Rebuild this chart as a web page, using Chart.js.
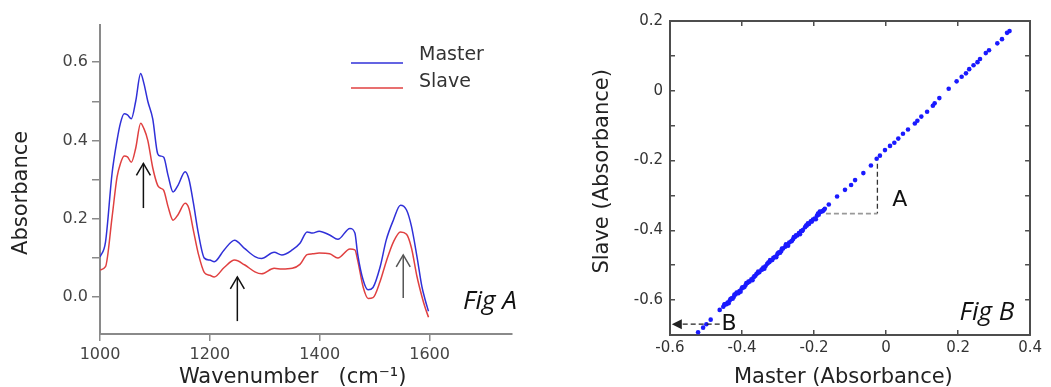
<!DOCTYPE html>
<html>
<head>
<meta charset="utf-8">
<script src="https://cdn.jsdelivr.net/npm/chart.js@4.4.0/dist/chart.umd.min.js"></script>
<style>
  html, body { margin: 0; padding: 0; background: #fff; overflow: hidden; width: 1051px; height: 387px; }
  canvas { position: absolute; top: 0; }
  #figA { left: 0; }
  #figB { left: 580px; }
</style>
</head>
<body>
<canvas id="figA" width="560" height="400"></canvas>
<canvas id="figB" width="471" height="400"></canvas>
<script>
// Fig A: spectra (wavenumber, absorbance)
const wavenumber = [1000, 1010, 1022, 1031, 1037, 1044, 1050, 1057, 1065, 1074, 1080, 1087, 1096, 1105, 1110, 1116,
  1124, 1133, 1142, 1155, 1162, 1170, 1179, 1190, 1200, 1208, 1226, 1245, 1263, 1282, 1294, 1317, 1331, 1350, 1364,
  1377, 1387, 1399, 1418, 1433, 1455, 1464, 1469, 1479, 1488, 1497, 1510, 1521, 1534, 1547, 1558, 1567, 1577, 1586,
  1592, 1598];
const masterA = [0.102, 0.140, 0.316, 0.400, 0.443, 0.468, 0.465, 0.455, 0.500, 0.571, 0.545, 0.500, 0.455, 0.366,
  0.360, 0.357, 0.310, 0.268, 0.285, 0.320, 0.300, 0.240, 0.163, 0.099, 0.094, 0.090, 0.120, 0.145, 0.124, 0.103,
  0.098, 0.114, 0.107, 0.120, 0.137, 0.166, 0.163, 0.168, 0.158, 0.147, 0.175, 0.163, 0.110, 0.043, 0.018, 0.024,
  0.077, 0.145, 0.196, 0.234, 0.222, 0.180, 0.103, 0.026, -0.008, -0.037];
const slaveA = [0.069, 0.077, 0.204, 0.306, 0.340, 0.360, 0.358, 0.344, 0.380, 0.444, 0.430, 0.400, 0.330, 0.285,
  0.278, 0.272, 0.230, 0.196, 0.210, 0.239, 0.225, 0.170, 0.110, 0.062, 0.055, 0.051, 0.075, 0.094, 0.082, 0.064,
  0.059, 0.073, 0.071, 0.073, 0.083, 0.108, 0.110, 0.112, 0.110, 0.099, 0.122, 0.120, 0.094, 0.025, -0.004, -0.002,
  0.040, 0.090, 0.140, 0.166, 0.160, 0.125, 0.052, 0.001, -0.028, -0.052];
const seriesNames = ["Master", "Slave"];
const wnTicks = [1000, 1750, 200];          // min, max, step
const absTicks = [-0.095, 0.695, 0.1];

// Fig B: slave vs master scatter
const masterB = [0.343, 0.336, 0.322, 0.309, 0.286, 0.277, 0.261, 0.254, 0.243, 0.231, 0.222, 0.210, 0.196, 0.174,
  0.148, 0.135, 0.130, 0.114, 0.098, 0.087, 0.080, 0.061, 0.047, 0.034, 0.023, 0.011, -0.003, -0.017, -0.026, -0.042,
  -0.063, -0.086, -0.097, -0.114, -0.136, -0.159,
  -0.170, -0.176, -0.181, -0.187, -0.192, -0.198, -0.203, -0.209, -0.214, -0.220, -0.225, -0.231, -0.236, -0.242,
  -0.247, -0.253, -0.258, -0.264, -0.269, -0.275, -0.280, -0.286, -0.291, -0.297, -0.302, -0.308, -0.313, -0.319,
  -0.324, -0.330, -0.335, -0.341, -0.346, -0.352, -0.357, -0.363, -0.368, -0.374, -0.379, -0.385, -0.390, -0.396,
  -0.401, -0.407, -0.412, -0.418, -0.423, -0.429, -0.434, -0.440, -0.445, -0.452,
  -0.184, -0.195, -0.217, -0.239, -0.256, -0.272, -0.289, -0.305, -0.322, -0.338, -0.355, -0.371, -0.388, -0.404,
  -0.421, -0.437, -0.449,
  -0.173, -0.189, -0.206, -0.222, -0.233, -0.250, -0.261, -0.278, -0.294, -0.300, -0.316, -0.327, -0.344, -0.360,
  -0.366, -0.382, -0.393, -0.399, -0.410, -0.415, -0.426, -0.432, -0.443, -0.448,
  -0.462, -0.487, -0.499, -0.508, -0.522];
const slaveB = [0.171, 0.166, 0.148, 0.136, 0.116, 0.108, 0.091, 0.082, 0.073, 0.062, 0.050, 0.040, 0.027, 0.006,
  -0.021, -0.036, -0.043, -0.060, -0.074, -0.086, -0.094, -0.111, -0.123, -0.137, -0.149, -0.158, -0.170, -0.186,
  -0.195, -0.214, -0.236, -0.256, -0.270, -0.284, -0.303, -0.326,
  -0.338, -0.345, -0.347, -0.355, -0.358, -0.366, -0.369, -0.374, -0.382, -0.386, -0.391, -0.399, -0.402, -0.408,
  -0.415, -0.419, -0.425, -0.432, -0.435, -0.442, -0.447, -0.452, -0.459, -0.463, -0.469, -0.476, -0.479, -0.486,
  -0.491, -0.496, -0.503, -0.507, -0.513, -0.520, -0.523, -0.530, -0.535, -0.540, -0.547, -0.551, -0.557, -0.564,
  -0.567, -0.574, -0.579, -0.584, -0.591, -0.595, -0.601, -0.607, -0.611, -0.619,
  -0.346, -0.368, -0.380, -0.411, -0.419, -0.444, -0.452, -0.477, -0.485, -0.510, -0.518, -0.543, -0.551, -0.576,
  -0.584, -0.609, -0.613,
  -0.342, -0.352, -0.375, -0.386, -0.402, -0.414, -0.430, -0.440, -0.464, -0.465, -0.485, -0.492, -0.512, -0.525,
  -0.532, -0.547, -0.562, -0.563, -0.580, -0.578, -0.596, -0.597, -0.612, -0.612,
  -0.628, -0.656, -0.669, -0.679, -0.692];
const masterTicks = [-0.6, 0.4, 0.2];
const slaveTicks = [-0.7, 0.2, 0.1];

Chart.defaults.font.family = "DejaVu Sans";
Chart.defaults.animation = false;

const BLUE = "#3030d8", RED = "#e04040";

// arrows, dashed guides, free text and a hand-placed legend, all in data units
const notesPlugin = {
  id: "notes",
  afterDraw(chart, args, opts) {
    const ctx = chart.ctx;
    const px = v => chart.scales.x.getPixelForValue(v);
    const py = v => chart.scales.y.getPixelForValue(v);
    ctx.save();
    (opts.arrows || []).forEach(a => {
      const x = px(a.x), y0 = py(a.from), y1 = py(a.to);
      ctx.strokeStyle = a.color; ctx.lineWidth = 1.5; ctx.setLineDash([]);
      ctx.beginPath(); ctx.moveTo(x, y0); ctx.lineTo(x, y1); ctx.stroke();
      ctx.beginPath(); ctx.moveTo(x - 7, y1 + 12); ctx.lineTo(x, y1); ctx.lineTo(x + 7, y1 + 12); ctx.stroke();
    });
    (opts.dashes || []).forEach(d => {
      ctx.strokeStyle = d.color; ctx.lineWidth = d.width; ctx.setLineDash(d.dash);
      ctx.beginPath(); ctx.moveTo(px(d.x0), py(d.y0)); ctx.lineTo(px(d.x1), py(d.y1)); ctx.stroke();
      ctx.setLineDash([]);
      if (d.head) {
        const tx = px(d.x1), ty = py(d.y1);
        ctx.fillStyle = d.color;
        ctx.beginPath(); ctx.moveTo(tx, ty); ctx.lineTo(tx + 10, ty - 5); ctx.lineTo(tx + 10, ty + 5); ctx.closePath(); ctx.fill();
      }
    });
    (opts.texts || []).forEach(t => {
      ctx.font = t.font; ctx.fillStyle = "#111";
      ctx.textAlign = t.align || "left"; ctx.textBaseline = "middle";
      ctx.fillText(t.text, px(t.x), py(t.y));
    });
    if (opts.legend) {
      const L = opts.legend;
      chart.data.datasets.forEach((ds, i) => {
        const y = L.y + i * L.gap;
        ctx.strokeStyle = ds.borderColor; ctx.lineWidth = 1.6;
        ctx.beginPath(); ctx.moveTo(L.x, y); ctx.lineTo(L.x + L.len, y); ctx.stroke();
        ctx.font = "19px DejaVu Sans"; ctx.fillStyle = "#333";
        ctx.textAlign = "left"; ctx.textBaseline = "middle";
        ctx.fillText(ds.label, L.x + L.len + 16, y - 8 + i * 2);
      });
    }
    ctx.restore();
  }
};

function pairs(xs, ys) {
  return xs.map((x, i) => ({ x: x, y: ys[i] }));
}

function lineSet(label, values, color) {
  return {
    label: label,
    data: pairs(wavenumber, values),
    borderColor: color,
    borderWidth: 1.5,
    pointRadius: 0,
    cubicInterpolationMode: "monotone"
  };
}

const axisGrey = "#8a8a8a";

new Chart(document.getElementById("figA"), {
  type: "line",
  data: { datasets: [lineSet(seriesNames[0], masterA, BLUE), lineSet(seriesNames[1], slaveA, RED)] },
  options: {
    responsive: false,
    layout: { padding: { top: 25, right: 48, left: 0, bottom: 0 } },
    plugins: {
      legend: { display: false },
      tooltip: { enabled: false },
      notes: {
        legend: { x: 351, y: 63, len: 52, gap: 25 },
        arrows: [
          { x: 1079, from: 0.227, to: 0.341, color: "#111" },
          { x: 1250, from: -0.062, to: 0.051, color: "#111" },
          { x: 1552, from: -0.003, to: 0.107, color: "#555" }
        ],
        texts: [{ text: "Fig A", x: 1661, y: -0.013, font: "italic 26px 'Open Sans'" }]
      }
    },
    scales: {
      x: {
        type: "linear", min: wnTicks[0], max: wnTicks[1],
        afterFit: s => { s.height = 66; },
        border: { color: axisGrey, width: 2 },
        grid: { drawOnChartArea: false, tickLength: 7, color: axisGrey, lineWidth: 1.5 },
        ticks: { stepSize: wnTicks[2], includeBounds: false, padding: 4, color: "#444", font: { size: 16 },
          callback: v => String(v) },
        title: { display: true, text: "Wavenumber   (cm\u207B\u00B9)    ", color: "#222",
          font: { size: 21 }, padding: { top: 0, bottom: 10 } }
      },
      y: {
        min: absTicks[0], max: absTicks[1],
        afterFit: s => { s.width = 100; },
        border: { color: axisGrey, width: 2 },
        grid: { drawOnChartArea: false, tickLength: 8, color: axisGrey, lineWidth: 1.5 },
        ticks: { stepSize: absTicks[2], includeBounds: false, padding: 4, color: "#444", font: { size: 16 },
          callback: v => (Math.round(v * 10) % 2 === 0 ? v.toFixed(1) : "") },
        title: { display: true, text: "Absorbance    ", color: "#222",
          font: { size: 21 }, padding: { top: 9, bottom: 0 } }
      }
    }
  },
  plugins: [notesPlugin]
});

const boxGrey = "#4d4d4d";
const fmtB = v => (Math.abs(v) < 1e-9 ? "0" : v.toFixed(1));

function frameAxis(min, max, step, pos, size) {
  return {
    type: "linear", position: pos, min: min, max: max,
    afterFit: s => { if (pos === "top") s.height = size; else s.width = size; },
    border: { color: boxGrey, width: 2 },
    grid: { drawOnChartArea: false, tickLength: -5, color: boxGrey, lineWidth: 1.5 },
    ticks: { display: false, stepSize: step }
  };
}

new Chart(document.getElementById("figB"), {
  type: "scatter",
  data: {
    datasets: [{
      label: "Slave vs Master",
      data: pairs(masterB, slaveB),
      backgroundColor: "#1a1aff",
      borderWidth: 0,
      pointRadius: 2.3
    }]
  },
  options: {
    responsive: false,
    layout: { padding: 0 },
    plugins: {
      legend: { display: false },
      tooltip: { enabled: false },
      notes: {
        dashes: [
          { x0: -0.024, y0: -0.209, x1: -0.024, y1: -0.352, color: "#333", width: 1.3, dash: [5, 3] },
          { x0: -0.167, y0: -0.352, x1: -0.024, y1: -0.352, color: "#999", width: 1.6, dash: [5, 3] },
          { x0: -0.462, y0: -0.669, x1: -0.595, y1: -0.669, color: "#222", width: 1.3, dash: [5, 3], head: true }
        ],
        texts: [
          { text: "A", x: 0.038, y: -0.313, font: "22px DejaVu Sans", align: "center" },
          { text: "B", x: -0.436, y: -0.669, font: "22px DejaVu Sans", align: "center" },
          { text: "Fig B", x: 0.204, y: -0.635, font: "italic 26px 'Open Sans'" }
        ]
      }
    },
    scales: {
      x: {
        type: "linear", min: masterTicks[0], max: masterTicks[1],
        afterFit: s => { s.height = 65; },
        border: { color: boxGrey, width: 2 },
        grid: { drawOnChartArea: false, tickLength: -5, color: boxGrey, lineWidth: 1.5 },
        ticks: { stepSize: masterTicks[2], padding: 9, color: "#333", font: { size: 15 }, callback: fmtB },
        title: { display: true, text: "Master (Absorbance)  ", color: "#222",
          font: { size: 21 }, padding: { top: 0, bottom: 10 } }
      },
      y: {
        type: "linear", min: slaveTicks[0], max: slaveTicks[1],
        afterFit: s => { s.width = 90; },
        border: { color: boxGrey, width: 2 },
        grid: { drawOnChartArea: false, tickLength: -5, color: boxGrey, lineWidth: 1.5 },
        ticks: { stepSize: slaveTicks[2], padding: 12, color: "#333", font: { size: 15 },
          callback: v => (Math.round(v * 10) % 2 === 0 ? fmtB(v) : "") },
        title: { display: true, text: "  Slave (Absorbance)", color: "#222",
          font: { size: 21 }, padding: { top: 10, bottom: 0 } }
      },
      x2: frameAxis(masterTicks[0], masterTicks[1], masterTicks[2], "top", 14),
      y2: frameAxis(slaveTicks[0], slaveTicks[1], slaveTicks[2], "right", 18)
    }
  },
  plugins: [notesPlugin]
});
</script>
</body>
</html>
